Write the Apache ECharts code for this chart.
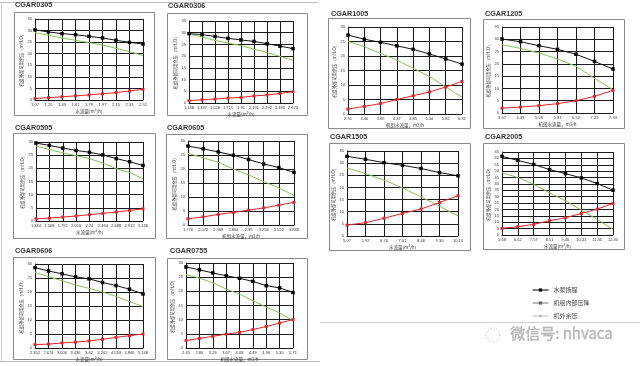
<!DOCTYPE html>
<html><head><meta charset="utf-8">
<script src="https://cdn.jsdelivr.net/npm/echarts@6/dist/echarts.min.js"></script>
<style>html,body{margin:0;padding:0;background:#fff}#c{width:640px;height:366px}</style>
</head><body><div id="c"></div>
<script>
// ---- data ----
const cats0305 = ['1.07','1.25','1.43','1.61','1.79','1.97','2.15','2.33','2.51'];
const head0305 = [30.3,29.4,28.7,28.2,27.5,26.8,25.8,24.9,24.2];
const drop0305 = [0.6,1.0,1.4,1.8,2.2,2.7,3.2,3.9,4.6];
const ext0305  = [29.1,28.0,26.8,25.8,24.8,23.8,22.3,20.9,19.2];

const cats0306 = ['1.148','1.337','1.526','1.715','1.91','2.101','2.292','2.483','2.674'];
const head0306 = [29.6,29.2,28.4,27.6,26.9,26.3,25.3,24.3,23.2];
const drop0306 = [1.0,1.4,1.7,2.1,2.4,3.0,3.4,4.1,4.8];
const ext0306  = [29.3,28.2,26.7,25.6,24.5,23.0,21.5,19.9,18.2];

const cats0505 = ['1.344','1.568','1.792','2.016','2.24','2.464','2.688','2.912','3.136'];
const head0505 = [29.6,28.7,27.7,26.8,26.1,25.1,23.7,22.5,21.1];
const drop0505 = [0.8,1.1,1.5,1.9,2.4,2.9,3.4,4.0,4.6];
const ext0505  = [28.5,27.1,25.9,24.8,23.7,22.0,19.9,18.4,16.1];

const cats0605 = ['1.776','2.072','2.368','2.664','2.96','3.256','3.552','3.848'];
const head0605 = [28.2,27.2,26.1,24.9,23.4,21.8,20.5,18.8];
const drop0605 = [2.2,2.9,3.8,4.5,5.3,6.1,7.1,8.1];
const ext0605  = [25.6,24.0,22.4,20.0,17.9,15.5,13.2,10.6];

const cats0606 = ['2.352','2.674','3.006','3.436','3.62','4.202','4.534','4.866','5.148'];
const head0606 = [28.7,27.5,26.5,25.4,24.7,23.4,22.3,21.0,19.3];
const drop0606 = [1.2,1.4,1.8,2.1,2.5,3.1,3.8,4.4,5.0];
const ext0606  = [27.0,25.5,24.0,22.5,21.3,20.0,18.4,16.6,14.8];

const cats0755 = ['2.45','2.86','3.26','3.67','4.08','4.49','4.90','5.30','5.71'];
const head0755 = [28.6,27.6,26.5,25.5,24.6,23.5,22.0,21.2,19.6];
const drop0755 = [2.6,3.4,4.1,4.9,5.5,6.5,7.6,8.8,10.0];
const ext0755  = [25.9,24.7,23.0,20.8,19.0,16.7,14.4,12.4,9.6];

const cats1005 = ['2.91','3.40','3.89','4.37','4.85','5.34','5.82','6.31'];
const head1005 = [27.2,25.8,24.7,23.5,22.3,20.7,19.0,17.2];
const drop1005 = [1.7,2.6,3.6,5.0,6.3,7.6,9.3,11.2];
const ext1005  = [25.1,23.2,20.9,18.6,15.8,12.9,9.4,5.8];

const cats1205 = ['3.67','4.38','5.09','5.81','6.52','7.23','7.94'];
const head1205 = [30.1,29.0,27.4,25.9,23.9,21.0,17.9];
const drop1205 = [2.0,2.4,3.0,3.8,5.0,6.8,9.2];
const ext1205  = [27.8,26.3,24.4,22.0,19.0,14.1,9.5];

const cats1505 = ['5.07','5.92','6.76','7.61','8.46','9.30','10.14'];
const head1505 = [32.8,31.6,30.2,29.1,27.8,26.1,24.8];
const drop1505 = [4.5,5.5,7.3,9.3,11.1,13.8,16.6];
const ext1505  = [28.0,25.7,23.0,19.8,16.1,12.3,8.2];

const cats2005 = ['5.68','6.62','7.57','8.51','9.46','10.41','11.35','12.30'];
const head2005 = [61.6,58.4,55.3,51.2,48.1,44.7,40.3,35.1];
const drop2005 = [5.2,6.5,8.3,11.2,13.5,16.9,20.3,24.7];
const ext2005  = [48.8,45.0,39.7,33.0,26.8,19.5,12.2,4.4];

const seriesNames = ['水泵扬程','机组内部压降','机外余压'];
const nameA = '水流量(m³/h)';
const nameB = '机组水流量，m3/h';

// ---- layout ----
const charts = [
 {t:'CGAR0305',c:cats0305,h:head0305,d:drop0305,e:ext0305,max:35,g:[35,19,108,81],f:[14,12,154,115],tp:[15,2],xn:nameA},
 {t:'CGAR0306',c:cats0306,h:head0306,d:drop0306,e:ext0306,max:35,g:[189,21,104,82],f:[167,13,307,115],tp:[168,2.5],xn:nameA},
 {t:'CGAR0505',c:cats0505,h:head0505,d:drop0505,e:ext0505,max:30,g:[36,142,107,79],f:[13,133,155,238],tp:[15,125],xn:nameA},
 {t:'CGAR0605',c:cats0605,h:head0605,d:drop0605,e:ext0605,max:30,g:[188,141,106,84],f:[166,134,307,238],tp:[167,125],xn:nameB},
 {t:'CGAR0606',c:cats0606,h:head0606,d:drop0606,e:ext0606,max:30,g:[35,264,108,84],f:[13,257,155,359],tp:[15,247.5],xn:nameA},
 {t:'CGAR0755',c:cats0755,h:head0755,d:drop0755,e:ext0755,max:30,g:[186,263,107,85],f:[167,258,307,359],tp:[170,247.5],xn:nameB},
 {t:'CGAR1005',c:cats1005,h:head1005,d:drop1005,e:ext1005,max:30,g:[348,27,114,87],f:[328,18,470,128],tp:[331,10.5],xn:nameB},
 {t:'CGAR1205',c:cats1205,h:head1205,d:drop1205,e:ext1205,max:35,g:[502,27,111,86],f:[483,19,624,128],tp:[485,10.5],xn:nameB},
 {t:'CGAR1505',c:cats1505,h:head1505,d:drop1505,e:ext1505,max:35,g:[347,151,111,85],f:[329,143,470,250],tp:[330,133.5],xn:nameA},
 {t:'CGAR2005',c:cats2005,h:head2005,d:drop2005,e:ext2005,max:65,g:[502,152,111,83],f:[483,143,624,249],tp:[485,133.5],xn:nameA}
];

const CJK = '"Noto Sans CJK SC","Liberation Sans",sans-serif';
const grid=[], xAxis=[], yAxis=[], series=[], title=[], graphic=[];
const gridLine = {show:true, lineStyle:{color:'#1a1a1a', width:1}};

charts.forEach((ch,i)=>{
  const [l,t,w,h] = ch.g;
  grid.push({left:l, top:t, width:w, height:h, containLabel:false});
  title.push({text:ch.t, left:ch.tp[0], top:ch.tp[1], padding:0,
    textStyle:{fontSize:7.2, fontWeight:'bold', color:'#333', fontFamily:'"Liberation Sans",Arial,sans-serif'}});
  xAxis.push({type:'category', gridIndex:i, data:ch.c, boundaryGap:false,
    name:ch.xn, nameLocation:'middle', nameGap:9,
    nameTextStyle:{fontSize:4.5, color:'#333', fontFamily:CJK},
    axisLine:{show:true, lineStyle:{color:'#1a1a1a', width:1}},
    axisTick:{show:false},
    axisLabel:{interval:0, fontSize:4, color:'#333', margin:3, fontFamily:'"Liberation Sans",sans-serif', hideOverlap:false},
    splitLine:gridLine});
  yAxis.push({type:'value', gridIndex:i, min:0, max:ch.max, interval:5,
    name:'机组外部可用余压（mH₂O）', nameLocation:'middle', nameRotate:90, nameGap:10,
    nameTextStyle:{fontSize:4.3, color:'#333', fontFamily:CJK},
    axisLine:{show:true, lineStyle:{color:'#1a1a1a', width:1}},
    axisTick:{show:false},
    axisLabel:{fontSize:4, color:'#333', margin:3, fontFamily:'"Liberation Sans",sans-serif'},
    splitLine:gridLine});
  series.push({type:'line', name:seriesNames[2], xAxisIndex:i, yAxisIndex:i, data:ch.e,
    symbol:'none', lineStyle:{color:'#86c35a', width:1}, itemStyle:{color:'#86c35a'}, z:3, silent:true, animation:false});
  series.push({type:'line', name:seriesNames[0], xAxisIndex:i, yAxisIndex:i, data:ch.h,
    symbol:'rect', symbolSize:3.5, lineStyle:{color:'#111', width:1}, itemStyle:{color:'#000'}, z:4, silent:true, animation:false});
  series.push({type:'line', name:seriesNames[1], xAxisIndex:i, yAxisIndex:i, data:ch.d,
    symbol:'rect', symbolSize:3, lineStyle:{color:'#e0262b', width:1}, itemStyle:{color:'#e0262b'}, z:4, silent:true, animation:false});
  const [x1,y1,x2,y2] = ch.f;
  graphic.push({type:'rect', shape:{x:x1+0.5,y:y1+0.5,width:x2-x1,height:y2-y1},
    style:{fill:'none', stroke:'#8a8a8a', lineWidth:1}, silent:true});
});

// panel separators
graphic.push({type:'line', shape:{x1:0,y1:2.5,x2:318,y2:2.5}, style:{stroke:'#bdbdbd',lineWidth:1}});
graphic.push({type:'line', shape:{x1:1.5,y1:2,x2:1.5,y2:361}, style:{stroke:'#d0d0d0',lineWidth:1}});
graphic.push({type:'line', shape:{x1:0,y1:361.5,x2:320,y2:361.5}, style:{stroke:'#bdbdbd',lineWidth:1}});
graphic.push({type:'line', shape:{x1:320,y1:322.5,x2:640,y2:322.5}, style:{stroke:'#cfcfcf',lineWidth:1}});
// watermark
graphic.push({type:'text', left:510, top:326, style:{text:'微信号: nhvaca', fontSize:15,
  fontFamily:CJK, fill:'#b8b8b8', stroke:'#9a9a9a', lineWidth:0.3}});
graphic.push({type:'circle', shape:{cx:493,cy:335,r:7}, style:{fill:'none', stroke:'#c8c8c8', lineWidth:1, lineDash:[1.5,1.5]}});

const option = {
  animation:false,
  title, grid, xAxis, yAxis, series, graphic,
  legend:{orient:'vertical', left:527, top:282, itemWidth:16, itemHeight:4, itemGap:7,
    textStyle:{fontSize:6, color:'#444', fontFamily:CJK}, selectedMode:false,
    data:[
      {name:'水泵扬程', itemStyle:{color:'#000'}, lineStyle:{color:'#000',width:1}},
      {name:'机组内部压降', itemStyle:{color:'#666'}, lineStyle:{color:'#777',width:1}},
      {name:'机外余压', itemStyle:{color:'#bbb'}, lineStyle:{color:'#bbb',width:1}}
    ]}
};
const chart = echarts.init(document.getElementById('c'), null, {renderer:'canvas'});
chart.setOption(option);
</script></body></html>
